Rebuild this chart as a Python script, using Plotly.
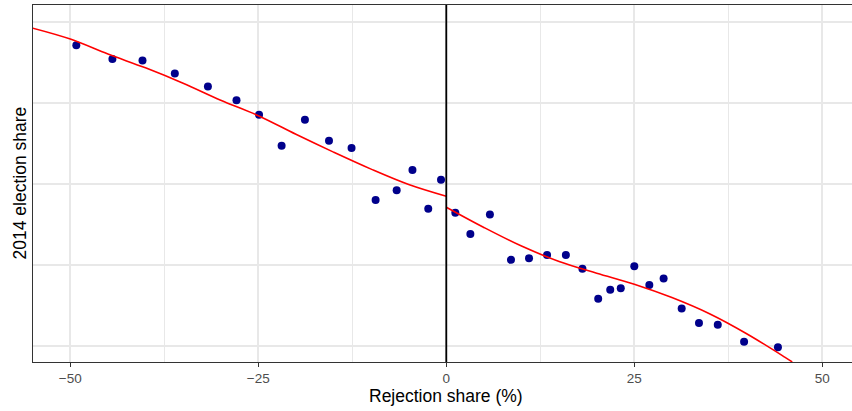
import plotly.graph_objects as go

# Observed municipalities: rejection share (%) vs 2014 election share
rejection_share = [
    -49.2, -44.4, -40.4, -36.1, -31.7, -27.9, -24.9, -21.9, -18.8, -15.6,
    -12.6, -9.4, -6.6, -4.5, -2.4, -0.7,
    1.2, 3.2, 5.8, 8.6, 11.0, 13.4, 15.9, 18.1, 20.2, 21.8, 23.2, 25.0,
    27.0, 28.9, 31.3, 33.6, 36.1, 39.6, 44.1,
]
election_share = [
    47.1, 45.4, 45.2, 43.6, 42.0, 40.3, 38.5, 34.7, 37.9, 35.3,
    34.4, 28.0, 29.2, 31.7, 26.9, 30.5,
    26.4, 23.8, 26.2, 20.6, 20.8, 21.2, 21.2, 19.5, 15.8, 16.9, 17.1, 19.8,
    17.5, 18.3, 14.6, 12.8, 12.6, 10.5, 9.8,
]

# Smoothed fits on each side of the threshold
fit_left_x = [-55, -50, -45, -40, -35, -30, -25, -20, -15, -10, -5, 0]
fit_left_y = [49.2, 47.85, 46.0, 44.3, 42.4, 40.3, 38.4, 36.1, 33.9, 31.8, 29.9, 28.45]
fit_right_x = [0, 5, 10, 15, 20, 25, 30, 35, 40, 45, 46]
fit_right_y = [27.1, 24.6, 22.3, 20.4, 18.95, 17.6, 15.95, 13.95, 11.45, 8.6, 8.0]

x_ticks = [-50, -25, 0, 25, 50]
x_tick_text = ["\u221250", "\u221225", "0", "25", "50"]
x_minor = [-37.5, -12.5, 12.5, 37.5]
y_grid = [10, 20, 30, 40, 50]

W, H = 852, 411
L, T, B, R = 33, 5, 49, 0
X_RANGE = [-54.96, 53.95]
Y_RANGE = [7.99, 52.06]

fig = go.Figure()

fig.add_trace(go.Scatter(
    x=rejection_share, y=election_share, mode="markers",
    marker=dict(color="#00008B", size=8, line=dict(width=0)),
    hoverinfo="skip", showlegend=False,
))
for fx, fy in ((fit_left_x, fit_left_y), (fit_right_x, fit_right_y)):
    fig.add_trace(go.Scatter(
        x=fx, y=fy, mode="lines",
        line=dict(color="#FF0000", width=1.6, shape="spline", smoothing=1.0),
        hoverinfo="skip", showlegend=False,
    ))

# Threshold line at zero
fig.add_shape(type="line", xref="x", yref="paper", x0=0, x1=0, y0=0, y1=1,
              line=dict(color="black", width=1.8), layer="above")

grid = "#E8E8E8"
axis_col = "#333333"
tick_font = dict(family="Liberation Sans, Arial, sans-serif", size=13.5, color="#4D4D4D")

fig.update_layout(
    width=W, height=H,
    margin=dict(l=L, r=R, t=T, b=B, pad=0),
    paper_bgcolor="white", plot_bgcolor="white",
    font=dict(family="Liberation Sans, Arial, sans-serif", color="black"),
    xaxis=dict(
        range=X_RANGE, tickmode="array", tickvals=x_ticks, ticktext=x_tick_text,
        tickfont=tick_font, ticks="outside", ticklen=4, tickwidth=1, tickcolor=axis_col,
        showgrid=True, gridcolor=grid, gridwidth=1.5,
        minor=dict(tickmode="array", tickvals=x_minor, showgrid=True,
                   gridcolor=grid, gridwidth=1.3, ticks=""),
        showline=True, linecolor=axis_col, linewidth=1.2, mirror=True,
        zeroline=False, fixedrange=True,
    ),
    yaxis=dict(
        range=Y_RANGE, tickmode="array", tickvals=y_grid, showticklabels=False,
        ticks="", showgrid=True, gridcolor=grid, gridwidth=1.5,
        showline=True, linecolor=axis_col, linewidth=1.2, mirror=False,
        zeroline=False, fixedrange=True,
    ),
    annotations=[
        dict(text="Rejection share (%)", xref="x", yref="paper", x=0, y=-0.095,
             xanchor="center", yanchor="middle", showarrow=False, borderpad=0,
             font=dict(size=17.5, color="black")),
        dict(text="2014 election share", xref="paper", yref="paper",
             x=(19 - L) / (W - L - R), y=0.5, xanchor="center", yanchor="middle",
             textangle=-90, showarrow=False, borderpad=0,
             font=dict(size=17.5, color="black")),
    ],
)

fig.write_html("out.html")
